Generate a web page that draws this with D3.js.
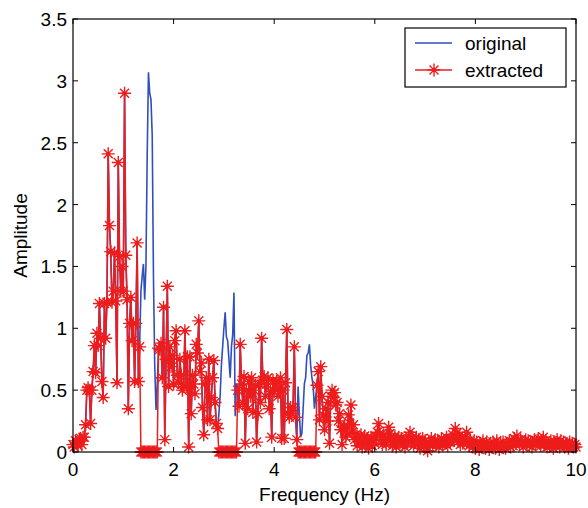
<!DOCTYPE html>
<html lang="en">
<head>
    <meta charset="UTF-8">
    <title>Original vs extracted spectrum</title>
    <script type="text/javascript" src="https://cdn.jsdelivr.net/npm/d3@7"></script>
    <style>
        body { margin: 0; background: #fff; }
        text { font-family: "Liberation Sans", Arial, sans-serif; fill: #000; }
    </style>
</head>
<body>
<script type="text/javascript">
    var w = 588;
    var h = 508;
    var margin = {top: 19, right: 12, bottom: 56, left: 73};

    // frequency bins (Hz)
    var freq = [
        0, 0.025, 0.05, 0.075, 0.1, 0.125, 0.15, 0.175, 0.2, 0.225, 0.25, 0.275, 0.3, 0.325, 0.35, 0.375, 0.4, 0.425, 0.45, 0.475,
        0.5, 0.525, 0.55, 0.575, 0.6, 0.625, 0.65, 0.675, 0.7, 0.725, 0.75, 0.775, 0.8, 0.825, 0.85, 0.875, 0.9, 0.925, 0.95, 0.975,
        1, 1.025, 1.05, 1.075, 1.1, 1.125, 1.15, 1.175, 1.2, 1.225, 1.25, 1.275, 1.3, 1.325, 1.35, 1.375, 1.4, 1.425, 1.45, 1.475,
        1.5, 1.525, 1.55, 1.575, 1.6, 1.625, 1.65, 1.675, 1.7, 1.725, 1.75, 1.775, 1.8, 1.825, 1.85, 1.875, 1.9, 1.925, 1.95, 1.975,
        2, 2.025, 2.05, 2.075, 2.1, 2.125, 2.15, 2.175, 2.2, 2.225, 2.25, 2.275, 2.3, 2.325, 2.35, 2.375, 2.4, 2.425, 2.45, 2.475,
        2.5, 2.525, 2.55, 2.575, 2.6, 2.625, 2.65, 2.675, 2.7, 2.725, 2.75, 2.775, 2.8, 2.825, 2.85, 2.875, 2.9, 2.925, 2.95, 2.975,
        3, 3.025, 3.05, 3.075, 3.1, 3.125, 3.15, 3.175, 3.2, 3.225, 3.25, 3.275, 3.3, 3.325, 3.35, 3.375, 3.4, 3.425, 3.45, 3.475,
        3.5, 3.525, 3.55, 3.575, 3.6, 3.625, 3.65, 3.675, 3.7, 3.725, 3.75, 3.775, 3.8, 3.825, 3.85, 3.875, 3.9, 3.925, 3.95, 3.975,
        4, 4.025, 4.05, 4.075, 4.1, 4.125, 4.15, 4.175, 4.2, 4.225, 4.25, 4.275, 4.3, 4.325, 4.35, 4.375, 4.4, 4.425, 4.45, 4.475,
        4.5, 4.525, 4.55, 4.575, 4.6, 4.625, 4.65, 4.675, 4.7, 4.725, 4.75, 4.775, 4.8, 4.825, 4.85, 4.875, 4.9, 4.925, 4.95, 4.975,
        5, 5.025, 5.05, 5.075, 5.1, 5.125, 5.15, 5.175, 5.2, 5.225, 5.25, 5.275, 5.3, 5.325, 5.35, 5.375, 5.4, 5.425, 5.45, 5.475,
        5.5, 5.525, 5.55, 5.575, 5.6, 5.625, 5.65, 5.675, 5.7, 5.725, 5.75, 5.775, 5.8, 5.825, 5.85, 5.875, 5.9, 5.925, 5.95, 5.975,
        6, 6.025, 6.05, 6.075, 6.1, 6.125, 6.15, 6.175, 6.2, 6.225, 6.25, 6.275, 6.3, 6.325, 6.35, 6.375, 6.4, 6.425, 6.45, 6.475,
        6.5, 6.525, 6.55, 6.575, 6.6, 6.625, 6.65, 6.675, 6.7, 6.725, 6.75, 6.775, 6.8, 6.825, 6.85, 6.875, 6.9, 6.925, 6.95, 6.975,
        7, 7.025, 7.05, 7.075, 7.1, 7.125, 7.15, 7.175, 7.2, 7.225, 7.25, 7.275, 7.3, 7.325, 7.35, 7.375, 7.4, 7.425, 7.45, 7.475,
        7.5, 7.525, 7.55, 7.575, 7.6, 7.625, 7.65, 7.675, 7.7, 7.725, 7.75, 7.775, 7.8, 7.825, 7.85, 7.875, 7.9, 7.925, 7.95, 7.975,
        8, 8.025, 8.05, 8.075, 8.1, 8.125, 8.15, 8.175, 8.2, 8.225, 8.25, 8.275, 8.3, 8.325, 8.35, 8.375, 8.4, 8.425, 8.45, 8.475,
        8.5, 8.525, 8.55, 8.575, 8.6, 8.625, 8.65, 8.675, 8.7, 8.725, 8.75, 8.775, 8.8, 8.825, 8.85, 8.875, 8.9, 8.925, 8.95, 8.975,
        9, 9.025, 9.05, 9.075, 9.1, 9.125, 9.15, 9.175, 9.2, 9.225, 9.25, 9.275, 9.3, 9.325, 9.35, 9.375, 9.4, 9.425, 9.45, 9.475,
        9.5, 9.525, 9.55, 9.575, 9.6, 9.625, 9.65, 9.675, 9.7, 9.725, 9.75, 9.775, 9.8, 9.825, 9.85, 9.875, 9.9, 9.925, 9.95, 9.975,
        10
    ];

    // amplitude of the original signal
    var original = [
        // 0 - 1.325
        0.06, 0.04, 0.09, 0.07, 0.05, 0.10, 0.11, 0.06, 0.12, 0.12, 0.22, 0.50, 0.52, 0.50, 0.23, 0.50, 0.65, 0.86, 0.64, 0.96,
        0.86, 1.20, 0.92, 0.57, 0.44, 1.20, 0.92, 1.21, 2.41, 1.83, 1.62, 1.21, 1.30, 1.61, 1.22, 0.56, 2.34, 1.58, 1.30, 1.50,
        1.30, 2.90, 1.59, 1.23, 0.35, 1.04, 1.25, 0.90, 1.04, 0.57, 1.04, 1.69, 0.57, 0.85,
        // 1.35 - 1.675
        1.30, 1.42, 1.52, 1.23, 1.50, 2.39, 3.07, 2.90, 2.85, 2.56, 1.40, 0.70, 0.34, 0.55,
        // 1.7 - 2.875
        0.84, 0.83, 0.88, 0.60, 1.17, 0.10, 0.75, 1.34, 0.53, 0.85, 0.69, 0.78, 0.55, 0.90, 0.98, 0.62, 0.56, 0.75, 0.62, 0.50,
        0.53, 0.98, 0.53, 0.77, 0.04, 0.77, 0.31, 0.62, 0.55, 0.47, 0.87, 0.80, 1.06, 0.65, 0.72, 0.36, 0.14, 0.55, 0.60, 0.26,
        0.75, 0.26, 0.44, 0.60, 0.74, 0.40, 0.23, 0.19,
        // 2.9 - 3.25
        0.31, 0.45, 0.70, 0.85, 1.00, 1.13, 0.93, 0.90, 0.75, 0.60, 0.85, 0.95, 1.29, 0.29, 0.55,
        // 3.275 - 4.45
        0.50, 0.37, 0.87, 0.55, 0.40, 0.61, 0.07, 0.50, 0.35, 0.57, 0.45, 0.60, 0.32, 0.50, 0.54, 0.08, 0.31, 0.55, 0.40, 0.92,
        0.58, 0.61, 0.45, 0.55, 0.60, 0.35, 0.49, 0.12, 0.58, 0.49, 0.55, 0.57, 0.45, 0.52, 0.60, 0.11, 0.50, 0.11, 0.56, 0.99,
        0.31, 0.28, 0.36, 0.31, 0.36, 0.85, 0.28, 0.10,
        // 4.475 - 4.825
        0.53, 0.30, 0.12, 0.15, 0.35, 0.55, 0.60, 0.78, 0.80, 0.87, 0.70, 0.60, 0.53, 0.35, 0.45,
        // 4.85 - 6
        0.54, 0.65, 0.26, 0.69, 0.45, 0.30, 0.18, 0.35, 0.25, 0.40, 0.07, 0.45, 0.50, 0.44, 0.48, 0.38, 0.40, 0.25, 0.31, 0.18,
        0.06, 0.20, 0.21, 0.12, 0.15, 0.30, 0.23, 0.38, 0.16, 0.22, 0.10, 0.14, 0.05, 0.12, 0.08, 0.14, 0.04, 0.10, 0.13, 0.06,
        0.11, 0.03, 0.09, 0.12, 0.05, 0.10, 0.07,
        // 6.025 - 10
        0.12, 0.16, 0.23, 0.15, 0.10, 0.06, 0.14, 0.09, 0.06, 0.11, 0.20, 0.15, 0.12, 0.05, 0.08, 0.13, 0.04, 0.09, 0.12, 0.07,
        0.11, 0.06, 0.09, 0.04, 0.10, 0.07, 0.13, 0.16, 0.08, 0.12, 0.05, 0.09, 0.12, 0.06, 0.10, 0.03, 0.08, 0.11, 0.05, 0.09,
        0.04, 0.01, 0.08, 0.06, 0.11, 0.05, 0.08, 0.10, 0.06, 0.09, 0.04, 0.07, 0.11, 0.06, 0.09, 0.07, 0.12, 0.05, 0.10, 0.08,
        0.11, 0.14, 0.09, 0.19, 0.15, 0.10, 0.13, 0.06, 0.11, 0.07, 0.09, 0.12, 0.16, 0.08, 0.05, 0.10, 0.07, 0.04, 0.09, 0.03,
        0.08, 0.05, 0.02, 0.07, 0.04, 0.09, 0.06, 0.03, 0.08, 0.05, 0.02, 0.07, 0.04, 0.08, 0.06, 0.03, 0.09, 0.05, 0.02, 0.07,
        0.04, 0.08, 0.05, 0.03, 0.07, 0.06, 0.09, 0.04, 0.08, 0.05, 0.11, 0.07, 0.13, 0.09, 0.06, 0.10, 0.07, 0.04, 0.08, 0.10,
        0.06, 0.09, 0.05, 0.08, 0.04, 0.07, 0.10, 0.06, 0.09, 0.11, 0.07, 0.05, 0.08, 0.12, 0.06, 0.09, 0.04, 0.07, 0.05, 0.09,
        0.06, 0.03, 0.08, 0.05, 0.10, 0.07, 0.04, 0.09, 0.06, 0.08, 0.04, 0.07, 0.05, 0.03, 0.08, 0.05, 0.07, 0.04, 0.06, 0.04
    ];

    // amplitude of the extracted signal (zero in the removed bands)
    var extracted = [
        // 0 - 1.325
        0.06, 0.04, 0.09, 0.07, 0.05, 0.10, 0.11, 0.06, 0.12, 0.12, 0.22, 0.50, 0.52, 0.50, 0.23, 0.50, 0.65, 0.86, 0.64, 0.96,
        0.86, 1.20, 0.92, 0.57, 0.44, 1.20, 0.92, 1.21, 2.41, 1.83, 1.62, 1.21, 1.30, 1.61, 1.22, 0.56, 2.34, 1.58, 1.30, 1.50,
        1.30, 2.90, 1.59, 1.23, 0.35, 1.04, 1.25, 0.90, 1.04, 0.57, 1.04, 1.69, 0.57, 0.85,
        // 1.35 - 1.675
        0, 0, 0, 0, 0, 0, 0, 0, 0, 0, 0, 0, 0, 0,
        // 1.7 - 2.875
        0.84, 0.83, 0.88, 0.60, 1.17, 0.10, 0.75, 1.34, 0.53, 0.85, 0.69, 0.78, 0.55, 0.90, 0.98, 0.62, 0.56, 0.75, 0.62, 0.50,
        0.53, 0.98, 0.53, 0.77, 0.04, 0.77, 0.31, 0.62, 0.55, 0.47, 0.87, 0.80, 1.06, 0.65, 0.72, 0.36, 0.14, 0.55, 0.60, 0.26,
        0.75, 0.26, 0.44, 0.60, 0.74, 0.40, 0.23, 0.19,
        // 2.9 - 3.25
        0, 0, 0, 0, 0, 0, 0, 0, 0, 0, 0, 0, 0, 0, 0,
        // 3.275 - 4.45
        0.50, 0.37, 0.87, 0.55, 0.40, 0.61, 0.07, 0.50, 0.35, 0.57, 0.45, 0.60, 0.32, 0.50, 0.54, 0.08, 0.31, 0.55, 0.40, 0.92,
        0.58, 0.61, 0.45, 0.55, 0.60, 0.35, 0.49, 0.12, 0.58, 0.49, 0.55, 0.57, 0.45, 0.52, 0.60, 0.11, 0.50, 0.11, 0.56, 0.99,
        0.31, 0.28, 0.36, 0.31, 0.36, 0.85, 0.28, 0.10,
        // 4.475 - 4.825
        0, 0, 0, 0, 0, 0, 0, 0, 0, 0, 0, 0, 0, 0, 0,
        // 4.85 - 6
        0.54, 0.65, 0.26, 0.69, 0.45, 0.30, 0.18, 0.35, 0.25, 0.40, 0.07, 0.45, 0.50, 0.44, 0.48, 0.38, 0.40, 0.25, 0.31, 0.18,
        0.06, 0.20, 0.21, 0.12, 0.15, 0.30, 0.23, 0.38, 0.16, 0.22, 0.10, 0.14, 0.05, 0.12, 0.08, 0.14, 0.04, 0.10, 0.13, 0.06,
        0.11, 0.03, 0.09, 0.12, 0.05, 0.10, 0.07,
        // 6.025 - 10
        0.12, 0.16, 0.23, 0.15, 0.10, 0.06, 0.14, 0.09, 0.06, 0.11, 0.20, 0.15, 0.12, 0.05, 0.08, 0.13, 0.04, 0.09, 0.12, 0.07,
        0.11, 0.06, 0.09, 0.04, 0.10, 0.07, 0.13, 0.16, 0.08, 0.12, 0.05, 0.09, 0.12, 0.06, 0.10, 0.03, 0.08, 0.11, 0.05, 0.09,
        0.04, 0.01, 0.08, 0.06, 0.11, 0.05, 0.08, 0.10, 0.06, 0.09, 0.04, 0.07, 0.11, 0.06, 0.09, 0.07, 0.12, 0.05, 0.10, 0.08,
        0.11, 0.14, 0.09, 0.19, 0.15, 0.10, 0.13, 0.06, 0.11, 0.07, 0.09, 0.12, 0.16, 0.08, 0.05, 0.10, 0.07, 0.04, 0.09, 0.03,
        0.08, 0.05, 0.02, 0.07, 0.04, 0.09, 0.06, 0.03, 0.08, 0.05, 0.02, 0.07, 0.04, 0.08, 0.06, 0.03, 0.09, 0.05, 0.02, 0.07,
        0.04, 0.08, 0.05, 0.03, 0.07, 0.06, 0.09, 0.04, 0.08, 0.05, 0.11, 0.07, 0.13, 0.09, 0.06, 0.10, 0.07, 0.04, 0.08, 0.10,
        0.06, 0.09, 0.05, 0.08, 0.04, 0.07, 0.10, 0.06, 0.09, 0.11, 0.07, 0.05, 0.08, 0.12, 0.06, 0.09, 0.04, 0.07, 0.05, 0.09,
        0.06, 0.03, 0.08, 0.05, 0.10, 0.07, 0.04, 0.09, 0.06, 0.08, 0.04, 0.07, 0.05, 0.03, 0.08, 0.05, 0.07, 0.04, 0.06, 0.04
    ];

    var xTicks = [0, 2, 4, 6, 8, 10];
    var yTicks = [0, 0.5, 1, 1.5, 2, 2.5, 3, 3.5];
    var seriesNames = ["original", "extracted"];

    var blue = "#2f4fbf";
    var red = "#ee1c1c";

    var svg = d3.select("body")
        .append("svg")
        .attr("width", w)
        .attr("height", h);

    var xScale = d3.scaleLinear()
        .domain([0, 10])
        .range([margin.left, w - margin.right]);

    var yScale = d3.scaleLinear()
        .domain([0, 3.5])
        .range([h - margin.bottom, margin.top]);

    var x0 = margin.left, x1 = w - margin.right;
    var y0 = h - margin.bottom, y1 = margin.top;

    // plot lines
    var line = d3.line()
        .x(function (d, i) { return xScale(freq[i]); })
        .y(function (d) { return yScale(d); });

    svg.append("path")
        .datum(original)
        .attr("d", line)
        .attr("fill", "none")
        .attr("stroke", blue)
        .attr("stroke-width", 1.6);

    svg.append("path")
        .datum(extracted)
        .attr("d", line)
        .attr("fill", "none")
        .attr("stroke", red)
        .attr("stroke-width", 1.5);

    // asterisk markers with a heavier centre
    var star = "M-6.5,0H6.5M0,-6.5V6.5M-4.5,-4.5L4.5,4.5M-4.5,4.5L4.5,-4.5";
    var marks = svg.append("g")
        .selectAll("g")
        .data(extracted).enter()
        .append("g")
        .attr("transform", function (d, i) {
            return "translate(" + xScale(freq[i]) + "," + yScale(d) + ")";
        });
    marks.append("path")
        .attr("d", star)
        .attr("fill", "none")
        .attr("stroke", red)
        .attr("stroke-width", 1.4);
    marks.append("circle")
        .attr("r", 2.2)
        .attr("fill", red);

    // axes box
    svg.append("rect")
        .attr("x", x0).attr("y", y1)
        .attr("width", x1 - x0).attr("height", y0 - y1)
        .attr("fill", "none")
        .attr("stroke", "#000")
        .attr("stroke-width", 1.2);

    var tickLen = 5;
    var xt = svg.append("g");
    xt.selectAll("line.b").data(xTicks).enter().append("line")
        .attr("x1", function (d) { return xScale(d); })
        .attr("x2", function (d) { return xScale(d); })
        .attr("y1", y0).attr("y2", y0 - tickLen)
        .attr("stroke", "#000");
    xt.selectAll("line.t").data(xTicks).enter().append("line")
        .attr("x1", function (d) { return xScale(d); })
        .attr("x2", function (d) { return xScale(d); })
        .attr("y1", y1).attr("y2", y1 + tickLen)
        .attr("stroke", "#000");
    xt.selectAll("text").data(xTicks).enter().append("text")
        .attr("x", function (d) { return xScale(d); })
        .attr("y", y0 + 24)
        .attr("text-anchor", "middle")
        .attr("font-size", "19px")
        .text(function (d) { return d; });

    var yt = svg.append("g");
    yt.selectAll("line.l").data(yTicks).enter().append("line")
        .attr("x1", x0).attr("x2", x0 + tickLen)
        .attr("y1", function (d) { return yScale(d); })
        .attr("y2", function (d) { return yScale(d); })
        .attr("stroke", "#000");
    yt.selectAll("line.r").data(yTicks).enter().append("line")
        .attr("x1", x1).attr("x2", x1 - tickLen)
        .attr("y1", function (d) { return yScale(d); })
        .attr("y2", function (d) { return yScale(d); })
        .attr("stroke", "#000");
    yt.selectAll("text").data(yTicks).enter().append("text")
        .attr("x", x0 - 6)
        .attr("y", function (d) { return yScale(d) + 7; })
        .attr("text-anchor", "end")
        .attr("font-size", "19px")
        .text(function (d) { return d; });

    // axis titles
    svg.append("text")
        .attr("x", (x0 + x1) / 2)
        .attr("y", 501)
        .attr("text-anchor", "middle")
        .attr("font-size", "19px")
        .text("Frequency (Hz)");

    svg.append("text")
        .attr("transform", "translate(27," + ((y0 + y1) / 2) + ") rotate(-90)")
        .attr("text-anchor", "middle")
        .attr("font-size", "19px")
        .text("Amplitude");

    // legend
    var lg = svg.append("g");
    lg.append("rect")
        .attr("x", 405).attr("y", 28)
        .attr("width", 161).attr("height", 59)
        .attr("fill", "#fff")
        .attr("stroke", "#000")
        .attr("stroke-width", 1.2);

    var lgRows = lg.selectAll("g.row")
        .data(seriesNames).enter()
        .append("g")
        .attr("transform", function (d, i) { return "translate(0," + (43 + i * 27) + ")"; });

    lgRows.append("line")
        .attr("x1", 415).attr("x2", 452)
        .attr("y1", 0).attr("y2", 0)
        .attr("stroke", function (d, i) { return i === 0 ? blue : red; })
        .attr("stroke-width", 1.4);

    var lgMark = lgRows.filter(function (d, i) { return i === 1; })
        .append("g")
        .attr("transform", "translate(434,0)");
    lgMark.append("path")
        .attr("d", star)
        .attr("fill", "none")
        .attr("stroke", red)
        .attr("stroke-width", 1.4);
    lgMark.append("circle")
        .attr("r", 2.2)
        .attr("fill", red);

    lgRows.append("text")
        .attr("x", 465)
        .attr("y", 7)
        .attr("font-size", "19px")
        .text(function (d) { return d; });
</script>
</body>
</html>
